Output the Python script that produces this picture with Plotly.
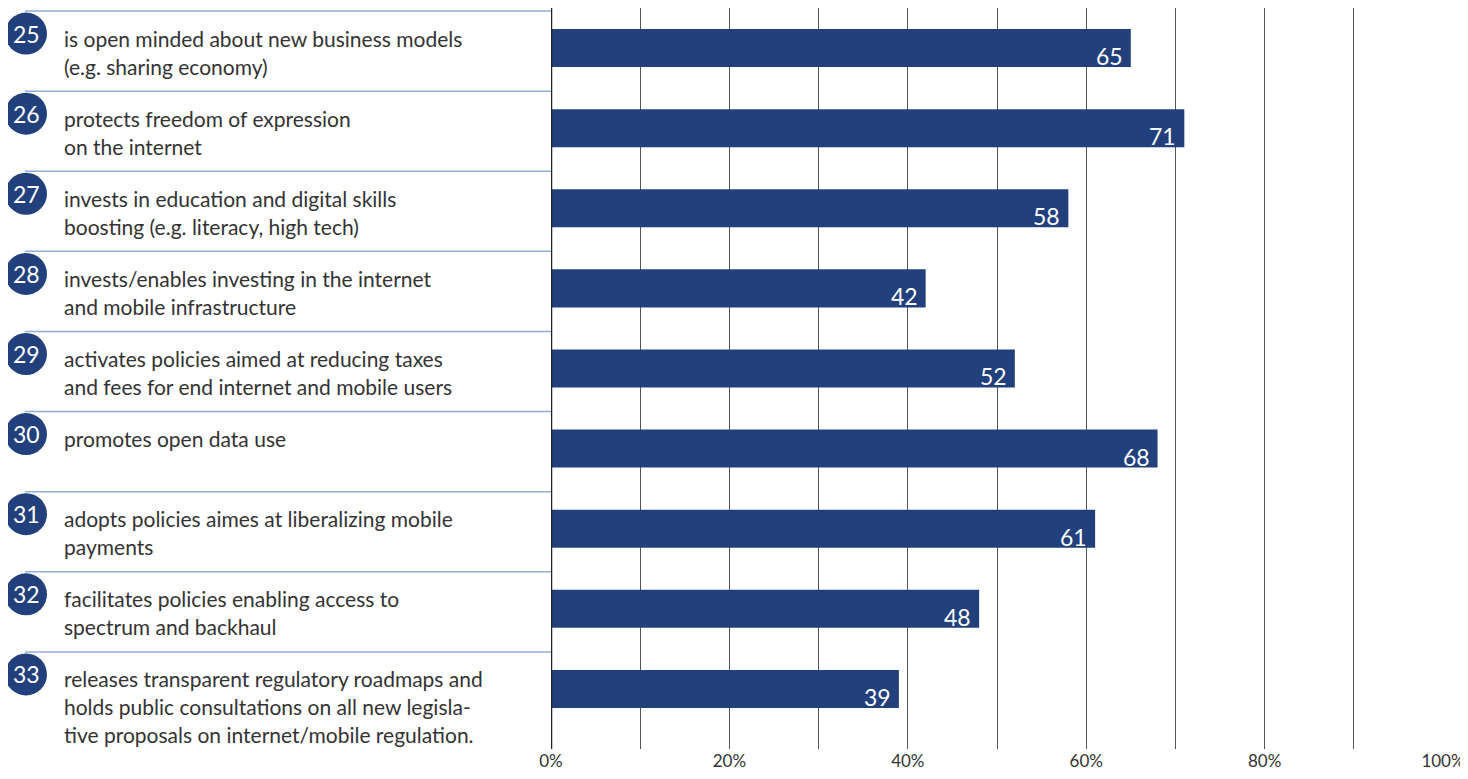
import plotly.graph_objects as go

# data
numbers = ["25", "26", "27", "28", "29", "30", "31", "32", "33"]
labels = [
    "is open minded about new business models\n(e.g. sharing economy)",
    "protects freedom of expression\non the internet",
    "invests in education and digital skills\nboosting (e.g. literacy, high tech)",
    "invests/enables investing in the internet\nand mobile infrastructure",
    "activates policies aimed at reducing taxes\nand fees for end internet and mobile users",
    "promotes open data use",
    "adopts policies aimes at liberalizing mobile\npayments",
    "facilitates policies enabling access to\nspectrum and backhaul",
    "releases transparent regulatory roadmaps and\nholds public consultations on all new legisla-\ntive proposals on internet/mobile regulation.",
]
values = [65, 71, 58, 42, 52, 68, 61, 48, 39]
tick_vals = [0, 10, 20, 30, 40, 50, 60, 70, 80, 90, 100]
tick_text = ["0%", "", "20%", "", "40%", "", "60%", "", "80%", "", "100%"]

BAR = "#22407b"
TEXT = "#333333"
FONT = "Lato"

# the page body has an 8px margin, so the figure is sized/offset to compensate
W, H = 1460, 771
left, right = 543, 25
plot_w = W - left - right


def px_to_paper(px):
    return (px - 8 - left) / plot_w


pos = list(range(len(values)))

fig = go.Figure()
fig.add_trace(go.Bar(
    x=values, y=pos, orientation="h",
    marker=dict(color=BAR, line=dict(width=0)),
    width=0.475, hoverinfo="skip",
))

annotations = []
shapes = []
for i, (num, lab, v) in enumerate(zip(numbers, labels, values)):
    # separator line above each row
    shapes.append(dict(type="line", xref="paper", yref="y",
                       x0=px_to_paper(25), x1=0, y0=i - 0.462, y1=i - 0.462,
                       line=dict(color="#93acd8", width=1.5), layer="above"))
    # numbered circle
    shapes.append(dict(type="circle", xref="paper", yref="y",
                       xsizemode="pixel", ysizemode="pixel",
                       xanchor=px_to_paper(26), yanchor=i,
                       x0=-21, x1=21, y0=14.5 - 21, y1=14.5 + 21,
                       fillcolor=BAR, line=dict(width=0), layer="above"))
    annotations.append(dict(text=num, xref="paper", yref="y",
                            x=px_to_paper(26), y=i, yshift=14.5,
                            showarrow=False, xanchor="center", yanchor="middle",
                            font=dict(family=FONT, size=23, color="white")))
    for k, line in enumerate(lab.split("\n")):
        annotations.append(dict(text=line, xref="paper", yref="y",
                                x=px_to_paper(62), y=i, yshift=10 - 28 * k,
                                showarrow=False, xanchor="left", yanchor="middle",
                                font=dict(family=FONT, size=21, color=TEXT)))
    # value label inside bar end
    annotations.append(dict(text=str(v), xref="x", yref="y",
                            x=v, y=i, xshift=-6, yshift=-8,
                            showarrow=False, xanchor="right", yanchor="middle",
                            font=dict(family=FONT, size=23, color="white")))

# 0% axis line
shapes.append(dict(type="line", xref="x", yref="paper", x0=0, x1=0, y0=0, y1=1,
                   line=dict(color="#222222", width=2.5), layer="above"))

fig.update_layout(
    width=W, height=H,
    margin=dict(l=left, r=right, t=0, b=30),
    plot_bgcolor="white", paper_bgcolor="white",
    showlegend=False,
    annotations=annotations,
    shapes=shapes,
    xaxis=dict(range=[0, 100], tickvals=tick_vals, ticktext=tick_text,
               showgrid=True, gridcolor="#555555", gridwidth=1,
               zeroline=False, showline=False, ticks="",
               tickfont=dict(family=FONT, size=17, color=TEXT)),
    yaxis=dict(range=[8.75, -0.5], showticklabels=False, showgrid=False,
               zeroline=False, showline=False),
)

fig.write_html("out.html")
